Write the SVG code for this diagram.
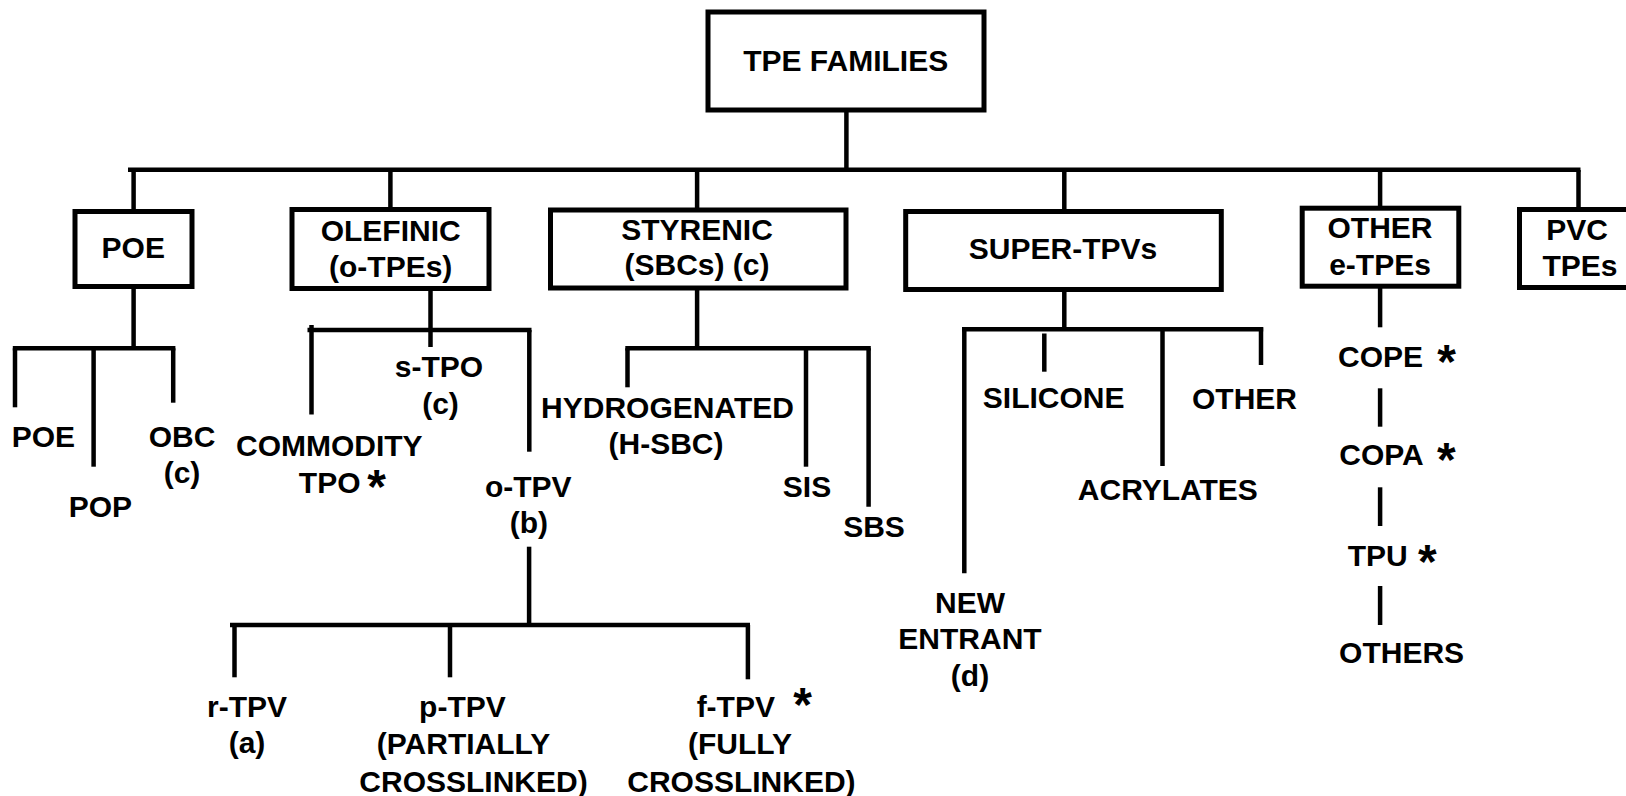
<svg xmlns="http://www.w3.org/2000/svg" width="1626" height="796" viewBox="0 0 1626 796">
<style>
text{font-family:"Liberation Sans",Arial,sans-serif;font-weight:bold;font-size:30px;fill:#000;text-anchor:middle}
.star{font-size:48px}
.box{fill:#fff;stroke:#000;stroke-width:5}
.ln{stroke:#000;stroke-width:4.5;fill:none}
</style>
<rect width="1626" height="796" fill="#fff"/>
<g id="connectors" class="ln">
<line x1="846.4" y1="110" x2="846.4" y2="170"/>
<line x1="128" y1="169.7" x2="1580.5" y2="169.7"/>
<line x1="133.6" y1="170" x2="133.6" y2="211"/>
<line x1="390.4" y1="170" x2="390.4" y2="209"/>
<line x1="697.1" y1="170" x2="697.1" y2="210"/>
<line x1="1064.3" y1="170" x2="1064.3" y2="211"/>
<line x1="1380.1" y1="170" x2="1380.1" y2="208"/>
<line x1="1578.5" y1="170" x2="1578.5" y2="209"/>
<line x1="133.6" y1="287" x2="133.6" y2="348.3"/>
<line x1="12.8" y1="348.3" x2="175.4" y2="348.3"/>
<line x1="15" y1="348.3" x2="15" y2="407.3"/>
<line x1="93.6" y1="348.3" x2="93.6" y2="466.7"/>
<line x1="173.2" y1="348.3" x2="173.2" y2="402.7"/>
<line x1="430.5" y1="289" x2="430.5" y2="347"/>
<line x1="307.5" y1="330" x2="531.5" y2="330"/>
<line x1="311.5" y1="325" x2="311.5" y2="414.5"/>
<line x1="529.3" y1="330" x2="529.3" y2="451.7"/>
<line x1="529.1" y1="546.7" x2="529.1" y2="625"/>
<line x1="230" y1="625" x2="750" y2="625"/>
<line x1="234.5" y1="625" x2="234.5" y2="677.3"/>
<line x1="450" y1="625" x2="450" y2="677.3"/>
<line x1="747.9" y1="625" x2="747.9" y2="679.3"/>
<line x1="697.1" y1="288" x2="697.1" y2="348.3"/>
<line x1="625.3" y1="348.3" x2="870.8" y2="348.3"/>
<line x1="627.5" y1="348.3" x2="627.5" y2="387.3"/>
<line x1="806" y1="348.3" x2="806" y2="466.7"/>
<line x1="868.6" y1="348.3" x2="868.6" y2="506.7"/>
<line x1="1064.3" y1="290" x2="1064.3" y2="329.3"/>
<line x1="962" y1="329.3" x2="1263.2" y2="329.3"/>
<line x1="964.3" y1="329.3" x2="964.3" y2="573.3"/>
<line x1="1044.3" y1="333.5" x2="1044.3" y2="371.7"/>
<line x1="1162.5" y1="329.3" x2="1162.5" y2="466"/>
<line x1="1261" y1="327.3" x2="1261" y2="365"/>
<line x1="1380.1" y1="288" x2="1380.1" y2="327.3"/>
<line x1="1380.1" y1="388.3" x2="1380.1" y2="426.7"/>
<line x1="1380.1" y1="487.3" x2="1380.1" y2="526"/>
<line x1="1380.1" y1="586" x2="1380.1" y2="625"/>
</g>
<g id="n-tpe"><rect class="box" x="708" y="12" width="276" height="98"/><text x="845.7" y="70.7">TPE FAMILIES</text></g>
<g id="n-poe"><rect class="box" x="75" y="211.5" width="117" height="75"/><text x="133.3" y="258.3">POE</text></g>
<g id="n-olefinic"><rect class="box" x="292" y="209.5" width="197" height="79"/><text x="390.7" y="240.7">OLEFINIC</text><text x="390.7" y="277">(o-TPEs)</text></g>
<g id="n-styrenic"><rect class="box" x="550.5" y="210" width="295.5" height="78"/><text x="697" y="240">STYRENIC</text><text x="697" y="275">(SBCs) (c)</text></g>
<g id="n-super"><rect class="box" x="905.7" y="211.5" width="315.6" height="78"/><text x="1063" y="259.3">SUPER-TPVs</text></g>
<g id="n-other"><rect class="box" x="1302.2" y="208.2" width="156.6" height="78"/><text x="1380" y="238.3">OTHER</text><text x="1380" y="275">e-TPEs</text></g>
<g id="n-pvc"><rect class="box" x="1519.5" y="209.5" width="130" height="78"/><text x="1577" y="239.5">PVC</text><text x="1580" y="276">TPEs</text></g>
<g id="n-poe2"><text x="43.4" y="446.7">POE</text></g>
<g id="n-pop"><text x="100.4" y="516.7">POP</text></g>
<g id="n-obc"><text x="182" y="446.7">OBC</text><text x="182" y="483.2">(c)</text></g>
<g id="n-stpo"><text x="439" y="376.7">s-TPO</text><text x="440.5" y="413.5">(c)</text></g>
<g id="n-commodity"><text x="329.3" y="456.3">COMMODITY</text><text x="329.7" y="493.3">TPO</text><text class="star" x="376.7" y="502.8">*</text></g>
<g id="n-otpv"><text x="528.3" y="496.7">o-TPV</text><text x="528.8" y="533.3">(b)</text></g>
<g id="n-hsbc"><text x="667.5" y="418.3">HYDROGENATED</text><text x="666" y="454">(H-SBC)</text></g>
<g id="n-sis"><text x="807" y="496.7">SIS</text></g>
<g id="n-sbs"><text x="874" y="536.7">SBS</text></g>
<g id="n-silicone"><text x="1053.7" y="408.3">SILICONE</text></g>
<g id="n-other2"><text x="1244.5" y="409.3">OTHER</text></g>
<g id="n-acrylates"><text x="1167.8" y="500">ACRYLATES</text></g>
<g id="n-new"><text x="970" y="612.7">NEW</text><text x="970" y="649.3">ENTRANT</text><text x="970" y="685.5">(d)</text></g>
<g id="n-cope"><text x="1380.5" y="366.7">COPE</text><text class="star" x="1446.7" y="377.8">*</text></g>
<g id="n-copa"><text x="1381.5" y="465">COPA</text><text class="star" x="1446.3" y="476.2">*</text></g>
<g id="n-tpu"><text x="1377.7" y="566">TPU</text><text class="star" x="1427.3" y="577.8">*</text></g>
<g id="n-others"><text x="1401.6" y="663.3">OTHERS</text></g>
<g id="n-rtpv"><text x="247" y="716.7">r-TPV</text><text x="247" y="753">(a)</text></g>
<g id="n-ptpv"><text x="462.4" y="716.7">p-TPV</text><text x="463.5" y="754">(PARTIALLY</text><text x="473.5" y="791.7">CROSSLINKED)</text></g>
<g id="n-ftpv"><text x="735.8" y="716.7">f-TPV</text><text class="star" x="802.7" y="721.2">*</text><text x="740" y="754">(FULLY</text><text x="741.4" y="791.7">CROSSLINKED)</text></g>
</svg>
